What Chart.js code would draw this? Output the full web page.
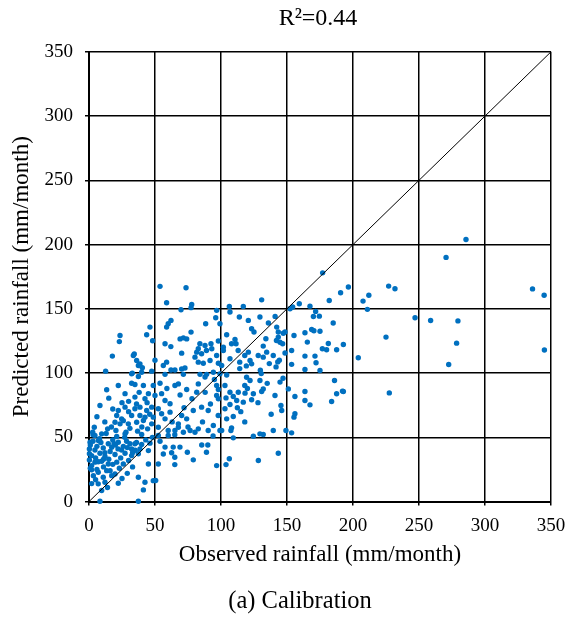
<!DOCTYPE html>
<html>
<head>
<meta charset="utf-8">
<title>Calibration scatter</title>
<script src="https://cdn.jsdelivr.net/npm/chart.js@4.4.0/dist/chart.umd.min.js"></script>
<style>
    html, body { margin: 0; padding: 0; background: #fff; }
</style>
</head>
<body>
<canvas id="scatterChart" width="569" height="622"></canvas>
<script>
// observed (x) and predicted (y) monthly rainfall, mm/month
var observed = [
    4.5, 21, 0.8, 7.1, 14.6, 22.2, 28.5, 34.8, 39.9, 46.2,
    0.3, 4.5, 10.8, 17.2, 24.7, 32.3, 38.6, 45, 0.3, 2,
    8.3, 12.1, 19.7, 27.3, 32.3, 37.4, 0.3, 4.5, 9.6, 14.6,
    21, 26, 45, 52.5, 2, 7, 13.4, 19.7, 3.3, 10.8,
    17.2, 37.4, 7, 12.1, 22.2, 42.4, 48.7, 9.6, 41.2, 8.3,
    37.4, 2, 6, 11, 16, 18, 24, 26, 30, 35,
    29, 23, 5, 1, 15, 9, 20, 31, 12, 3,
    7, 43, 48, 5, 14, 2, 25, 33, 1, 18,
    3, 8, 13, 19, 27, 33, 36, 11, 6, 16, 22, 29,
    37.4, 32.3, 22.2, 32.3, 34.8, 41.2, 48.7, 13.4, 27.3, 34.8,
    42.4, 50, 15, 8.3, 22.2, 27.3, 34.8, 38.6, 43.7, 47.5,
    21, 24.7, 32.3, 38.6, 42.4, 48.7, 19.7, 23.5, 29.8, 36.1,
    41.2, 47.5, 4, 14.1, 20.4, 28, 36.8, 44.4, 2.8, 9.6,
    27.3, 39.9, 30, 38, 45, 25, 18, 44, 30, 36,
    40, 31, 26, 46, 12, 6, 17,
    57.6, 71.5, 84.1, 87.9, 89.1, 99.2, 53.8, 65.1, 67.7, 74,
    82.8, 96.7, 98, 103, 55, 57.6, 61.4, 81.6, 96.7, 98,
    52.5, 61.4, 55, 57.6, 70.2, 74, 67.7, 79, 85.3, 90.3,
    97.9, 103, 52.5, 60, 65.1, 67.7, 71.5, 76.6, 80.3, 82.8,
    90.3, 94.2, 99.2,
    63, 72, 78, 88, 92, 59, 69, 86, 75, 95,
    52.5, 60, 65, 94, 53.8, 57.6, 63.8, 68.9, 85.4, 90,
    56.3, 62.6, 74.5, 89, 65, 79, 65, 96.7, 50.5,
    53.8, 73.5, 58.8, 77.8, 77.3, 69.7, 96.7, 62.1, 60, 58.8,
    88.4, 96, 99.2, 77.3, 46.2, 23.5, 23, 43.7, 48.2, 57.6,
    62, 69, 71.5, 74, 84, 87.9, 92.4, 98, 70.2, 82.8,
    81.6, 85.3, 89, 93, 96.7, 17.7, 34.3, 33.6, 36.1, 38.6,
    37.4, 40.4, 50, 56.3, 58.8, 80.3, 82.8, 86.6, 91.7, 98,
    62.1, 65.1, 70.2, 72.7, 12.6, 32.8, 39.9, 47.5, 94.2, 100.5,
    106.3, 106.8, 116.9, 130.8, 152.3, 154.3, 159.3, 167.4, 171.7, 174.5,
    170, 182, 190.6, 196.5, 113.9, 120.7, 129.5, 141, 135.9, 123.2,
    125, 142.2, 143.4, 147.2, 148.5, 155.3, 163.6, 168.7, 170.4, 175,
    185, 104.3, 110.6, 108, 101.8, 111.4, 134, 132, 142, 144.7,
    146.7, 143.4, 165.4, 176.8, 180, 181.3, 187.6, 192.7, 204, 101.8,
    106.8, 113, 114.2, 120.7, 118, 122, 123.2, 128.2, 134.6, 132,
    139.6, 148.5, 153.5, 153.5, 114.2, 119.2, 129.8, 130.5, 136.6, 141.7,
    143, 144.2, 163.6, 171.2, 172, 163.6, 175, 104.3, 119.4, 122,
    118, 129.5, 132, 144.7, 151, 186, 192, 177,
    106.8, 113.1, 118.2, 124.5, 130.8, 140.9, 103.8, 109.3, 111.9, 106.8,
    116.9, 123.2, 112.4, 145.4, 146, 104.3, 109.3, 100.5, 108, 107.5,
    109.3, 124.5, 129.5, 132, 139.6, 149.2, 153.5, 156, 163.6, 163.6,
    167.4, 156, 155.3, 183.8, 187.6, 192.7, 143.4, 106.3, 103.8, 128.3,
    115, 120, 135, 128, 138, 147, 118,
    285.6, 270.5, 227, 231.8, 212, 207.6, 210.9, 336, 344.8, 247,
    258.8, 279.5, 225, 278.5, 272.5, 345, 227.5
];
var predicted = [
    51.4, 50.6, 46.2, 47.5, 45, 46.2, 47, 45, 44.4, 45.5,
    41, 40.2, 41.8, 42.3, 40.2, 41, 41, 39.7, 37.2, 35.8,
    37.6, 35.1, 36.6, 37.6, 35.8, 37.2, 32.4, 30.7, 31.4, 29.3,
    30.7, 29.3, 29.3, 29.3, 24.7, 22.8, 24.1, 21.5, 20.2, 19,
    20.2, 19, 13.8, 15, 14.3, 15, 16.3, 8.6, 9.1, 0.3,
    0.3, 28, 43, 27, 39, 48, 34, 43, 32, 40,
    22, 26, 34, 26, 33, 46, 44, 45, 38, 47,
    31, 48, 50, 17, 11, 14, 18, 27, 44, 29,
    52, 49, 53, 45, 50, 38, 46, 33, 25, 24, 41, 42,
    97.3, 99.4, 90.3, 92.1, 91.1, 90.3, 90.3, 87, 84, 81.3,
    80, 82.6, 80.5, 74.8, 70.9, 73.5, 72.2, 73.5, 70.9, 73.5,
    67, 64.4, 67, 67, 65.7, 65.7, 61.8, 60.5, 60.5, 61.8,
    63.1, 60.5, 57.9, 56.6, 55.3, 54, 54.8, 56.6, 54, 52.7,
    52.7, 52.2, 78, 85, 84, 77, 72, 77, 70, 76,
    58, 57, 63, 68, 62, 66, 58,
    99, 99, 99, 97, 99, 99.4, 92.1, 90.3, 91.6, 87.2,
    91.6, 90.3, 87.2, 90.3, 84, 78.7, 76.1, 85.1, 82.6, 80,
    72.2, 69.6, 68.3, 64.4, 67, 64.4, 60.5, 70.9, 73.5, 70.9,
    67, 72.2, 57.9, 55.3, 55.3, 57.9, 54, 55.3, 54, 56.6,
    55.3, 59.2, 55.3,
    62, 73, 80, 85, 76, 88, 83, 62, 58, 95,
    51.4, 51.4, 52, 51, 47, 42.4, 42.4, 42.4, 44, 44,
    37, 38, 38.4, 38.4, 34.5, 32.5, 28.8, 28, 16.4,
    167.5, 166.4, 154.7, 153.4, 150.9, 149.3, 148.8, 141, 138.4, 135.8,
    138.4, 143, 138.4, 131.9, 135.8, 129.3, 124.5, 129.8, 125.2, 122.8,
    120.6, 126.6, 127.4, 126.6, 122.8, 121.5, 122.8, 125, 115.5, 118.9,
    116.3, 115, 117.6, 118.9, 113.7, 113.2, 114.9, 113.7, 109.8, 107.2,
    105.9, 104.2, 110, 105.9, 108.5, 112.4, 108.5, 107.7, 109.8, 107.7,
    102.4, 102.4, 103.2, 104, 101.5, 100, 100.7, 101.5, 100.7, 105.9,
    151.9, 147.5, 151.9, 157, 150.1, 151.4, 154, 152.1, 148, 144.3,
    144, 156.5, 162.5, 167, 143.6, 141, 143.6, 144.1, 139, 134.5,
    132, 135.8, 132, 131, 132, 129.3, 131.4, 133.9, 133, 132.6,
    139, 129.8, 126.2, 122.8, 120.2, 122.8, 126.7, 121, 125.4, 124,
    122.8, 128, 124.1, 118.9, 118.1, 123, 118.1, 122.3, 111.9, 117.6,
    111.1, 117.6, 108.5, 116.3, 113.7, 109.8, 107.2, 113.7, 116.3, 112.4,
    113.7, 115.6, 117.6, 106.8, 103.5, 105.6, 102.2, 99.6, 107.4, 104.8,
    108.7, 110, 113.2, 113.2, 108, 102.8, 102, 98.5, 96.8, 94.2,
    90.4, 94.2, 87.7, 93, 87.7, 94.2, 86, 178,
    85.1, 85.1, 84.4, 83.9, 85.7, 82.6, 80.7, 81.8, 78.7, 75.6,
    77.4, 79.2, 73, 74.8, 70.9, 64.4, 66.2, 55.3, 57.4, 55.3,
    49.6, 50.9, 52.7, 52.2, 55.3, 55.3, 53.5, 81.8, 85.7, 78.7,
    75.3, 68.3, 65.7, 77.9, 83.9, 85.7, 37.6, 33.3, 28.8, 32,
    70, 88, 92, 77, 68, 96, 62,
    204, 190, 167.7, 165.6, 160.6, 156, 149.6, 165.5, 160.6, 143,
    140.9, 140.6, 128, 123.3, 106.7, 118, 84.6
];
// 1:1 line ends
var lineX = [0, 350];
var lineY = [0, 350];
var tickStep = 50;
var axisMax = 350;
var titleText = "R²=0.44";
var captionText = "(a) Calibration";

var points = [];
for (var i = 0; i < observed.length; i++) {
    points.push({ x: observed[i], y: predicted[i] });
}
var oneToOne = [];
for (var j = 0; j < lineX.length; j++) {
    oneToOne.push({ x: lineX[j], y: lineY[j] });
}

var serif = "'Liberation Serif', 'Times New Roman', serif";

// the title sits over the plot, the caption a bit right of the page centre
var shiftBlocks = {
    id: 'shiftBlocks',
    afterLayout: function (chart) {
        var area = chart.chartArea;
        chart.boxes.forEach(function (box) {
            if (!box.options) return;
            var shift = 0;
            if (box.options.text === titleText) {
                shift = (area.left + area.right) / 2 - 2 - (box.left + box.right) / 2;
            } else if (box.options.text === captionText) {
                shift = 300 - (box.left + box.right) / 2;
            }
            box.left += shift;
            box.right += shift;
        });
    }
};

var ctx = document.getElementById("scatterChart").getContext("2d");
var myScatter = new Chart(ctx, {
    type: 'scatter',
    data: {
        datasets: [
            {
                label: "1:1",
                data: oneToOne,
                showLine: true,
                borderColor: "#000",
                borderWidth: 1,
                pointRadius: 0,
                order: 0
            },
            {
                label: "Calibration",
                data: points,
                backgroundColor: "#0070C0",
                borderWidth: 0,
                pointRadius: 2.7,
                pointHoverRadius: 2.7,
                clip: 6,
                order: 1
            }
        ]
    },
    options: {
        responsive: false,
        animation: false,
        layout: { padding: { left: 0, right: 18, top: 0, bottom: 0 } },
        plugins: {
            legend: { display: false },
            tooltip: { enabled: false },
            title: {
                display: true,
                text: titleText,
                color: "#000",
                font: { family: serif, size: 24, weight: "normal" },
                padding: { top: 4, bottom: 19 }
            },
            subtitle: {
                display: true,
                position: "bottom",
                text: captionText,
                color: "#000",
                font: { family: serif, size: 24.5, weight: "normal" },
                padding: { top: 0, bottom: 6 }
            }
        },
        scales: {
            x: {
                type: 'linear',
                min: 0,
                max: axisMax,
                ticks: { stepSize: tickStep, color: "#000", font: { family: serif, size: 19 }, padding: 9 },
                grid: { color: "#000", lineWidth: 1.5, tickLength: 4 },
                border: { color: "#000", width: 2 },
                title: {
                    display: true,
                    text: "Observed rainfall (mm/month)",
                    color: "#000",
                    font: { family: serif, size: 23 },
                    padding: { top: 4, bottom: 18 }
                },
                afterFit: function (scale) {
                    scale.height = 85;
                    // let the layout padding alone decide the right edge
                    scale.paddingLeft = 0;
                    scale.paddingRight = 0;
                }
            },
            y: {
                type: 'linear',
                min: 0,
                max: axisMax,
                ticks: { stepSize: tickStep, color: "#000", font: { family: serif, size: 19 }, padding: 12 },
                grid: { color: "#000", lineWidth: 1.5, tickLength: 4 },
                border: { color: "#000", width: 2 },
                title: {
                    display: true,
                    text: "Predicted rainfall (mm/month)",
                    color: "#000",
                    font: { family: serif, size: 23 },
                    padding: { top: 8, bottom: 4 }
                },
                afterFit: function (scale) { scale.width = 89; }
            }
        }
    },
    plugins: [shiftBlocks]
});
</script>
</body>
</html>
